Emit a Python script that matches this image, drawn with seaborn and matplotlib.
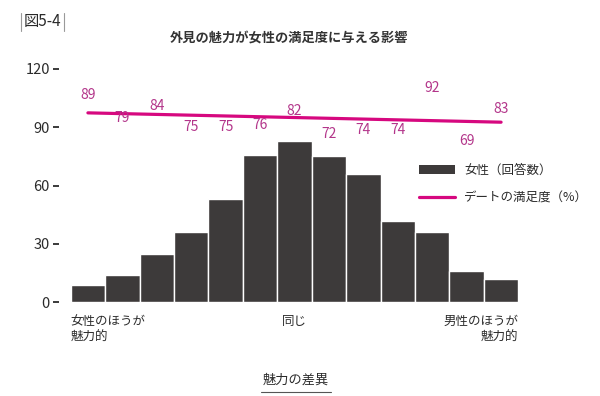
import matplotlib
matplotlib.use("Agg")
import matplotlib.pyplot as plt
from matplotlib.lines import Line2D
from matplotlib.patches import Patch
import seaborn as sns
import pandas as pd

# ---- data ----
positions = list(range(13))
counts = [9, 14, 25, 36, 53, 76, 83, 75, 66, 42, 36, 16, 12]
satisfaction = [89, 79, 84, 75, 75, 76, 82, 72, 74, 74, 92, 69, 83]
trend_x = [0, 12]
trend_y = [81.2, 77.2]
y_ticks = [0, 30, 60, 90, 120]
x_tick_pos = [-0.5, 6, 12.5]
x_tick_labels = ["女性のほうが\n魅力的", "同じ", "男性のほうが\n魅力的"]
title = "外見の魅力が女性の満足度に与える影響"
fig_label = "図5-4"
x_title = "魅力の差異"
legend_labels = ["女性（回答数）", "デートの満足度（%）"]

BAR_COLOR = "#3d3a3a"
LINE_COLOR = "#d6087f"
NUM_COLOR = "#b3358a"
TEXT_COLOR = "#2b2b2b"

sns.set_theme(style="white")
plt.rcParams["font.family"] = ["Noto Sans CJK JP", "DejaVu Sans"]

W, H = 600, 396
fig = plt.figure(figsize=(6, 3.96), dpi=100)
ax_left, ax_right = 59.3, 518.3
ax_top, ax_bottom = 69.0, 302.3
ax = fig.add_axes([ax_left / W, 1 - ax_bottom / H,
                   (ax_right - ax_left) / W, (ax_bottom - ax_top) / H])

df = pd.DataFrame({"pos": positions, "count": counts})
sns.barplot(data=df, x="pos", y="count", ax=ax, color=BAR_COLOR,
            width=1.0, edgecolor="white", linewidth=1.0, saturation=1,
            native_scale=True)
ax.set_xlim(-0.831, 12.5)
ax.set_ylim(0, 120)
ax.set_yticks(y_ticks)
ax.set_yticklabels([str(v) for v in y_ticks])
ax.tick_params(axis="y", length=4.2, width=1.3, color=TEXT_COLOR, pad=2.6,
               labelsize=10.5, labelcolor=TEXT_COLOR, left=True)
ax.set_xticks(x_tick_pos)
ax.set_xticklabels(x_tick_labels)
ax.tick_params(axis="x", length=0, pad=9, labelsize=9, labelcolor=TEXT_COLOR)
labs = ax.get_xticklabels()
labs[0].set_ha("left"); labs[0].set_multialignment("left")
labs[1].set_ha("center")
labs[2].set_ha("right"); labs[2].set_multialignment("right")
for l in labs:
    l.set_linespacing(1.35)
ax.set_xlabel("")
ax.set_ylabel("")
for s in ax.spines.values():
    s.set_visible(False)

ax2 = ax.twinx()
ax2.set_ylim(0, 100)
sns.lineplot(x=trend_x, y=trend_y, ax=ax2, color=LINE_COLOR, linewidth=2.3)
for xi, v in zip(positions, satisfaction):
    ax2.text(xi, v, str(v), ha="center", va="center", color=NUM_COLOR, fontsize=10)
ax2.set_yticks([])
ax2.set_ylabel("")
for s in ax2.spines.values():
    s.set_visible(False)

handles = [Patch(facecolor=BAR_COLOR, edgecolor="none"),
           Line2D([0], [0], color=LINE_COLOR, linewidth=2.3)]
leg = ax2.legend(handles, legend_labels, loc="upper left",
                 bbox_to_anchor=(414 / W, 1 - 159 / H), bbox_transform=fig.transFigure,
                 frameon=False, fontsize=9, handlelength=2.9, handleheight=0.65,
                 handletextpad=0.7, labelspacing=1.15, borderaxespad=0)
for t in leg.get_texts():
    t.set_color(TEXT_COLOR)

fig.text(289 / W, 1 - 37.7 / H, title, ha="center", va="center",
         fontsize=9.5, weight="bold", color="#333333")
fig.text(42.5 / W, 1 - 21.5 / H, fig_label, ha="center", va="center",
         fontsize=11, color=TEXT_COLOR)
for lx in (20.5, 64.0):
    fig.add_artist(Line2D([lx / W, lx / W], [1 - 13 / H, 1 - 31 / H],
                          transform=fig.transFigure, color="#9a9a9a", linewidth=0.8))
fig.text(295.5 / W, 1 - 380 / H, x_title, ha="center", va="center",
         fontsize=9.5, color=TEXT_COLOR)
fig.add_artist(Line2D([261 / W, 331 / W], [1 - 392 / H, 1 - 392 / H],
                      transform=fig.transFigure, color="#555555", linewidth=0.8))

fig.savefig("out.png", dpi=100, facecolor="white")
